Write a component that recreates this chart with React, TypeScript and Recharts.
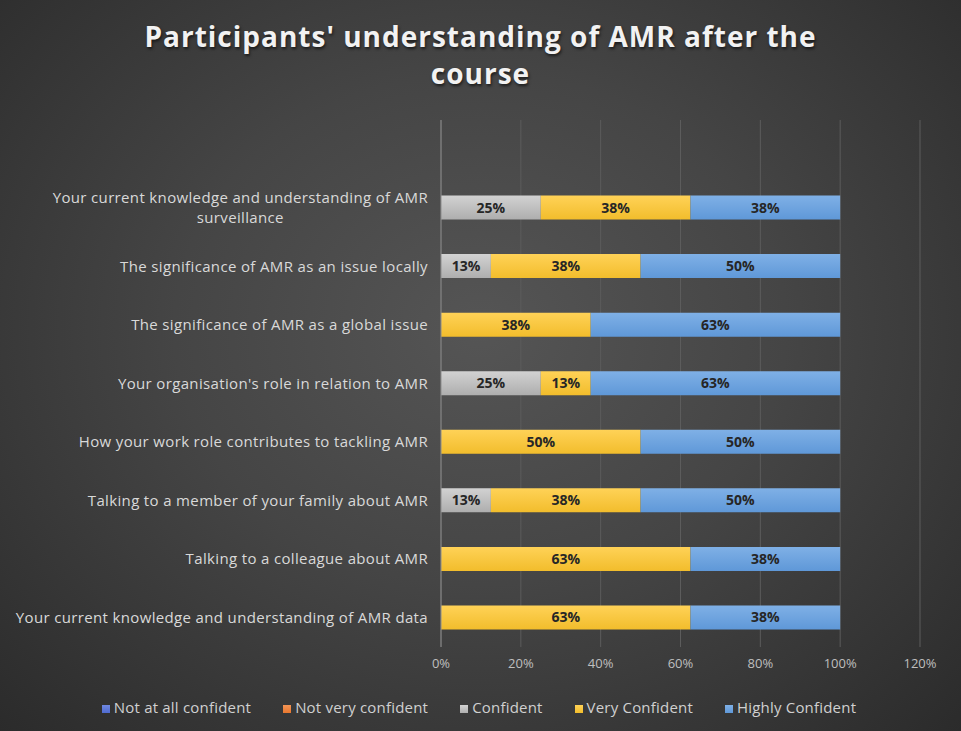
import { BarChart, Bar, XAxis, YAxis, CartesianGrid, Legend, LabelList } from "recharts";

// top row is an empty category, as in the source sheet
const categories = [
  "",
  "Your current knowledge and understanding of AMR surveillance",
  "The significance of AMR as an issue locally",
  "The significance of AMR as a global issue",
  "Your organisation's role in relation to AMR",
  "How your work role contributes to tackling AMR",
  "Talking to a member of your family about AMR",
  "Talking to a colleague about AMR",
  "Your current knowledge and understanding of AMR data",
];

const notAtAll = [0, 0, 0, 0, 0, 0, 0, 0, 0];
const notVery = [0, 0, 0, 0, 0, 0, 0, 0, 0];
const confident = [0, 25, 12.5, 0, 25, 0, 12.5, 0, 0];
const veryConfident = [0, 37.5, 37.5, 37.5, 12.5, 50, 37.5, 62.5, 62.5];
const highlyConfident = [0, 37.5, 50, 62.5, 62.5, 50, 50, 37.5, 37.5];

const xTicks = [0, 20, 40, 60, 80, 100, 120];

const data = categories.map((name, i) => ({
  name,
  notAtAll: notAtAll[i],
  notVery: notVery[i],
  confident: confident[i],
  veryConfident: veryConfident[i],
  highlyConfident: highlyConfident[i],
}));

const FONT = "'Open Sans', sans-serif";
const TICK_SIZE = 15;
const TICK_SPACING = 0.35;

let ctx: CanvasRenderingContext2D | null = null;
const measure = (t: string) => {
  if (!ctx) ctx = document.createElement("canvas").getContext("2d");
  if (!ctx) return t.length * 7.5;
  ctx.font = TICK_SIZE + "px 'Open Sans'";
  return ctx.measureText(t).width + t.length * TICK_SPACING;
};

const wrap = (label: string) => {
  if (label.length <= 55) return [label];
  const lines: string[] = [];
  let cur = "";
  label.split(" ").forEach((w) => {
    const next = cur ? cur + " " + w : w;
    if (next.length > 48 && cur) {
      lines.push(cur);
      cur = w;
    } else cur = next;
  });
  if (cur) lines.push(cur);
  return lines;
};

const CategoryTick = (props: any) => {
  const { x, y, payload } = props;
  const lines = wrap(payload.value);
  const w0 = measure(lines[0]);
  return (
    <g>
      {lines.map((l, i) => (
        <text
          key={i}
          x={i === 0 ? x : x - w0 / 2}
          y={y + (i - (lines.length - 1) / 2) * 20}
          dy="0.35em"
          textAnchor={i === 0 ? "end" : "middle"}
          fill="#d9d9d9"
          fontSize={TICK_SIZE}
          letterSpacing={TICK_SPACING}
          fontFamily={FONT}
        >
          {l}
        </text>
      ))}
    </g>
  );
};

const pct = (v: any) => (v ? Math.round(Number(v)) + "%" : "");

const series = [
  { key: "notAtAll", name: "Not at all confident", color: "#4f6bd0", top: "#6f88e0" },
  { key: "notVery", name: "Not very confident", color: "#e8782f", top: "#f29455" },
  { key: "confident", name: "Confident", color: "#aeaeae", top: "#d2d2d2" },
  { key: "veryConfident", name: "Very Confident", color: "#f2bd2c", top: "#ffd257" },
  { key: "highlyConfident", name: "Highly Confident", color: "#5f98d8", top: "#7fb0e6" },
];

const App = () => {
  return (
    <div
      style={{
        position: "absolute",
        left: 0,
        top: 0,
        width: 961,
        height: 731,
        background: "radial-gradient(ellipse at 50% 45%, #555555 0%, #454545 45%, #2b2b2b 100%)",
        fontFamily: FONT,
      }}
    >
      <div
        style={{
          position: "absolute",
          top: 18,
          left: 0,
          width: 961,
          textAlign: "center",
          color: "#f2f2f2",
          fontSize: 28,
          fontWeight: 700,
          letterSpacing: 1,
          lineHeight: "37px",
          textShadow: "1px 2px 3px rgba(0,0,0,0.6)",
        }}
      >
        Participants' understanding of AMR after the
        <br />
        course
      </div>
      <BarChart
        width={961}
        height={731}
        data={data}
        layout="vertical"
        margin={{ top: 120, right: 41, bottom: 34, left: 0 }}
        barSize={24}
      >
        <defs>
          {series.map((s) => (
            <linearGradient key={s.key} id={"g-" + s.key} x1="0" y1="0" x2="0" y2="1">
              <stop offset="0%" stopColor={s.top} />
              <stop offset="100%" stopColor={s.color} />
            </linearGradient>
          ))}
        </defs>
        <CartesianGrid horizontal={false} stroke="#5c5c5c" />
        <XAxis
          type="number"
          domain={[0, 120]}
          ticks={xTicks}
          tickFormatter={(v) => v + "%"}
          axisLine={false}
          tickLine={false}
          tickMargin={6}
          tick={{ fill: "#bfbfbf", fontSize: 13, fontFamily: FONT }}
          height={30}
        />
        <YAxis
          type="category"
          dataKey="name"
          width={441}
          tickSize={0}
          tickMargin={13}
          interval={0}
          tick={<CategoryTick />}
          axisLine={{ stroke: "#8c8c8c" }}
          tickLine={false}
        />
        <Legend
          verticalAlign="bottom"
          iconType="square"
          iconSize={8}
          itemSorter={(item: any) => series.findIndex((s) => s.name === item.value)}
          wrapperStyle={{ fontSize: 15, fontFamily: FONT, bottom: 14, left: 35, width: 920 }}
          formatter={(value) => (
            <span style={{ color: "#d0d0d0", marginRight: 22, letterSpacing: 0.2 }}>{value}</span>
          )}
        />
        {series.map((s) => (
          <Bar
            key={s.key}
            dataKey={s.key}
            name={s.name}
            stackId="a"
            fill={"url(#g-" + s.key + ")"}
            legendType="square"
            isAnimationActive={false}
          >
            <LabelList
              dataKey={s.key}
              position="center"
              formatter={pct}
              fill="#262626"
              fontSize={14}
              fontWeight={700}
              fontFamily={FONT}
            />
          </Bar>
        ))}
      </BarChart>
    </div>
  );
};

export default App;
